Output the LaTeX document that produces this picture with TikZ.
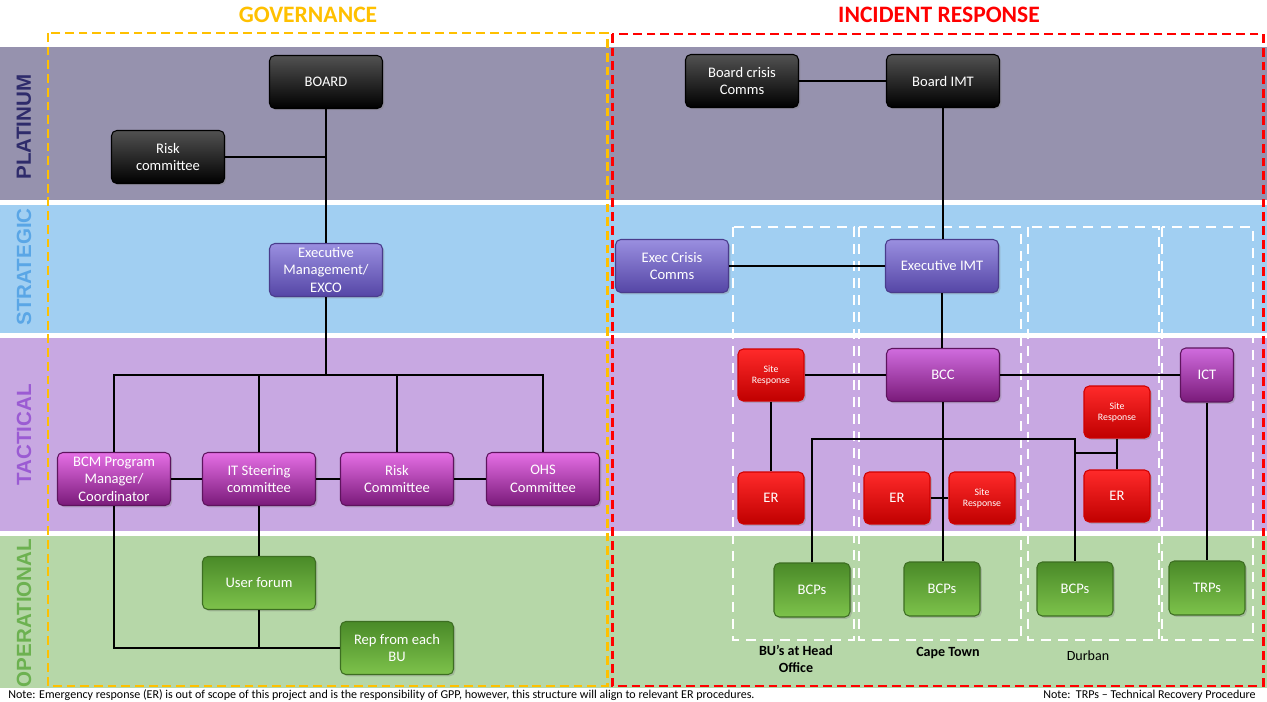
\documentclass[tikz,border=0pt]{standalone}
\usepackage{fontspec}
\setmainfont{Carlito}
\newfontfamily\sidefont{Liberation Sans}
\usetikzlibrary{shadows, positioning}

\definecolor{platband}{HTML}{9692AE}
\definecolor{stratband}{HTML}{A1CFF2}
\definecolor{tactband}{HTML}{C8A8E2}
\definecolor{operband}{HTML}{B6D7A8}
\definecolor{platlabel}{HTML}{2E2B6B}
\definecolor{stratlabel}{HTML}{5AA6E6}
\definecolor{tactlabel}{HTML}{9B5BD3}
\definecolor{operlabel}{HTML}{6CB150}
\definecolor{govorange}{HTML}{FFC000}
\definecolor{irred}{HTML}{FF0000}
\definecolor{exectop}{HTML}{9A8FE0}
\definecolor{execbot}{HTML}{5546A6}
\definecolor{execedge}{HTML}{4A3C8C}
\definecolor{tacttop}{HTML}{E56FE5}
\definecolor{tactbot}{HTML}{7A1A7A}
\definecolor{tactedge}{HTML}{5E145E}
\definecolor{bcctop}{HTML}{D06CDE}
\definecolor{redtop}{HTML}{FF2A2A}
\definecolor{redbot}{HTML}{C00000}
\definecolor{rededge}{HTML}{D00000}
\definecolor{greentop}{HTML}{4A8A28}
\definecolor{greenbot}{HTML}{7DC24B}
\definecolor{greenedge}{HTML}{3D6E22}

\tikzset{
    box/.style={rounded corners=3pt, line width=0.6pt, text=white, align=center,
        font=\fontsize{8.3}{10}\selectfont, inner sep=1pt,
        minimum width=2.26cm, minimum height=1.06cm,
        drop shadow={opacity=0.35, shadow xshift=1pt, shadow yshift=-1pt}},
    blackbox/.style={box, top color=black!68, bottom color=black, draw=black},
    execbox/.style={box, top color=exectop, bottom color=execbot, draw=execedge},
    tactbox/.style={box, top color=tacttop, bottom color=tactbot, draw=tactedge},
    redbox/.style={box, top color=redtop, bottom color=redbot, draw=rededge,
        minimum width=1.32cm, minimum height=1.04cm},
    greenbox/.style={box, top color=greentop, bottom color=greenbot, draw=greenedge},
    bcpbox/.style={greenbox, minimum width=1.52cm, minimum height=1.08cm},
    smalltext/.style={font=\fontsize{5.6}{6.2}\selectfont},
    sidelabel/.style={rotate=90, font=\sidefont\bfseries\fontsize{11.7}{12}\selectfont},
    heading/.style={font=\bfseries\fontsize{13.4}{14}\selectfont},
    frame/.style={line width=1.7pt, dash pattern=on 5pt off 2.8pt},
    sitebox/.style={draw=white, line width=1.4pt, dash pattern=on 5.7pt off 4pt},
    citylabel/.style={font=\fontsize{8}{10}\selectfont, align=center},
    note/.style={font=\fontsize{6.85}{8}\selectfont, inner sep=0pt},
    link/.style={draw=black, line width=0.85pt}
}

\begin{document}
\begin{tikzpicture}[x=0.02cm, y=-0.02cm]
    \useasboundingbox (0,0) rectangle (1267,702);
    \fill[white] (0,0) rectangle (1267,702);

    % bands
    \fill[platband] (0,47) rectangle (1267,200);
    \fill[stratband] (0,205) rectangle (1267,333);
    \fill[tactband] (0,338) rectangle (1267,531);
    \fill[operband] (0,536) rectangle (1267,688);

    \node[sidelabel, text=platlabel] (plat) at (24,127) {PLATINUM};
    \node[sidelabel, text=stratlabel] (strat) at (24,267) {STRATEGIC};
    \node[sidelabel, text=tactlabel] (tact) at (24,435) {TACTICAL};
    \node[sidelabel, text=operlabel] (oper) at (24,613) {OPERATIONAL};

    \node[heading, text=govorange] (gov) at (308,15) {GOVERNANCE};
    \node[heading, text=irred] (ir) at (939,15) {INCIDENT RESPONSE};
    \draw[frame, govorange] (48,33) rectangle (607,686);
    \draw[frame, irred] (612,34) rectangle (1263,686);

    \draw[sitebox] (733,227) rectangle (854,640);
    \draw[sitebox] (859,227) rectangle (1021,640);
    \draw[sitebox] (1028,227) rectangle (1159,640);
    \draw[sitebox] (1162,227) rectangle (1253,640);

    % governance
    \node[blackbox] (board) at (326,82) {BOARD};
    \node[blackbox] (riskc) at (168,157) {Risk\\committee};
    \node[execbox] (exco) at (326,270) {Executive\\Management/\\EXCO};
    \node[tactbox] (bcm) at (114,479) {BCM Program\\Manager/\\Coordinator};
    \node[tactbox] (itsc) at (259,479) {IT Steering\\committee};
    \node[tactbox] (riskt) at (397,479) {Risk\\Committee};
    \node[tactbox] (ohs) at (543,479) {OHS\\Committee};
    \node[greenbox] (uforum) at (259,583) {User forum};
    \node[greenbox] (rep) at (397,648) {Rep from each\\BU};

    \coordinate (govbus) at (326,375);
    \coordinate (repbus) at (259,649);
    \draw[link] (board) -- (exco);
    \draw[link] (riskc) -- (riskc -| board);
    \draw[link] (exco) -- (govbus);
    \draw[link] (bcm.north) |- (govbus) -| (ohs.north);
    \draw[link] (itsc.north) -- (itsc.north |- govbus);
    \draw[link] (riskt.north) -- (riskt.north |- govbus);
    \draw[link] (bcm) -- (itsc);
    \draw[link] (itsc) -- (riskt);
    \draw[link] (riskt) -- (ohs);
    \draw[link] (itsc) -- (uforum);
    \draw[link] (uforum) -- (repbus);
    \draw[link] (bcm.south) |- (rep.west);

    % incident response
    \node[blackbox] (bccomms) at (742,81) {Board crisis\\Comms};
    \node[blackbox] (bimt) at (943,81) {Board IMT};
    \node[execbox] (ecc) at (672,266) {Exec Crisis\\Comms};
    \node[execbox] (eimt) at (942,266) {Executive IMT};
    \node[tactbox, top color=bcctop] (bcc) at (943,375) {BCC};
    \node[tactbox, top color=bcctop, minimum width=1.06cm, minimum height=1.08cm] (ict) at (1207,375) {ICT};
    \node[redbox, smalltext] (srho) at (771,375) {Site\\Response};
    \node[redbox, smalltext] (srdb) at (1117,412) {Site\\Response};
    \node[redbox] (erho) at (771,498) {ER};
    \node[redbox] (erct) at (897,498) {ER};
    \node[redbox, smalltext] (srct) at (982,498) {Site\\Response};
    \node[redbox] (erdb) at (1117,496) {ER};
    \node[bcpbox] (bcpho) at (812,590) {BCPs};
    \node[bcpbox] (bcpct) at (942,589) {BCPs};
    \node[bcpbox] (bcpdb) at (1075,589) {BCPs};
    \node[bcpbox] (trps) at (1207,588) {TRPs};

    \coordinate (erbus) at (943,439);
    \coordinate (dbknee) at (1075,453);
    \draw[link] (bccomms) -- (bimt);
    \draw[link] (bimt.south) -- (bimt.south |- eimt.north);
    \draw[link] (ecc) -- (eimt);
    \draw[link] (eimt.south) -- (eimt.south |- bcc.north);
    \draw[link] (srho) -- (bcc);
    \draw[link] (bcc) -- (ict);
    \draw[link] (srho) -- (erho);
    \draw[link] (bcc.south) -- (bcc.south |- bcpct.north);
    \draw[link] (erct) -- (srct);
    \draw[link] (bcpho.north) |- (erbus) -| (bcpdb.north);
    \draw[link] (srdb) -- (erdb);
    \draw[link] (dbknee) -- (dbknee -| srdb);
    \draw[link] (ict) -- (trps);

    \node[citylabel, font=\bfseries\fontsize{8}{10}\selectfont] (honame) at (796,659) {BU’s at Head\\Office};
    \node[citylabel, font=\bfseries\fontsize{8}{10}\selectfont] (ctname) at (948,653) {Cape Town};
    \node[citylabel] (dbname) at (1088,656) {Durban};

    \node[note, anchor=west] (note1) at (8,695) {Note: Emergency response (ER) is out of scope of this project and is the responsibility of GPP, however, this structure will align to relevant ER procedures.};
    \node[note, anchor=east] (note2) at (1256,695) {Note:~~TRPs – Technical Recovery Procedure};
\end{tikzpicture}
\end{document}
